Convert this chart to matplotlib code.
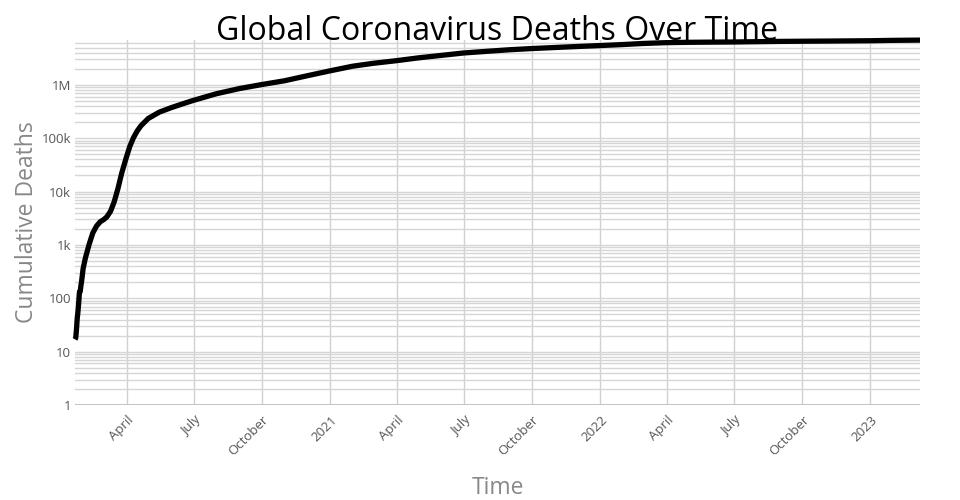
import pandas as pd
import matplotlib
matplotlib.use("Agg")
import matplotlib.pyplot as plt
from matplotlib.ticker import FixedLocator, NullFormatter

plt.rcParams['font.family'] = ['Open Sans', 'DejaVu Sans']

# cumulative global deaths
dates = [
    "2020-01-22", "2020-01-23", "2020-01-24", "2020-01-25", "2020-01-26", "2020-01-27",
    "2020-01-28", "2020-01-29", "2020-01-30", "2020-01-31", "2020-02-02", "2020-02-05",
    "2020-02-10", "2020-02-15", "2020-02-20", "2020-02-25", "2020-03-01", "2020-03-05",
    "2020-03-10", "2020-03-15", "2020-03-20", "2020-03-25", "2020-03-31", "2020-04-05",
    "2020-04-10", "2020-04-15", "2020-04-20", "2020-04-30", "2020-05-15", "2020-05-31",
    "2020-06-15", "2020-06-30", "2020-07-31", "2020-08-31", "2020-09-30", "2020-10-31",
    "2020-11-30", "2020-12-31", "2021-01-31", "2021-02-28", "2021-03-31", "2021-04-30",
    "2021-05-31", "2021-06-30", "2021-07-31", "2021-08-31", "2021-09-30", "2021-10-31",
    "2021-11-30", "2021-12-31", "2022-01-31", "2022-02-28", "2022-03-31", "2022-04-30",
    "2022-05-31", "2022-06-30", "2022-07-31", "2022-08-31", "2022-09-30", "2022-10-31",
    "2022-11-30", "2022-12-31", "2023-01-31", "2023-03-09",
]
deaths = [
    17, 18, 26, 42, 56, 82,
    131, 133, 171, 213, 362, 564,
    1013, 1666, 2247, 2708, 2996, 3348,
    4262, 6440, 11299, 21800, 42000, 69500,
    102000, 136000, 170000, 234000, 308000, 373000,
    438000, 511000, 680000, 850000, 1010000, 1190000,
    1470000, 1820000, 2230000, 2530000, 2830000, 3200000,
    3560000, 3950000, 4240000, 4540000, 4780000, 5000000,
    5220000, 5440000, 5680000, 5960000, 6170000, 6260000,
    6310000, 6350000, 6430000, 6510000, 6560000, 6600000,
    6650000, 6700000, 6810000, 6881000,
]

x_ticks = ["2020-04-01", "2020-07-01", "2020-10-01", "2021-01-01", "2021-04-01",
           "2021-07-01", "2021-10-01", "2022-01-01", "2022-04-01", "2022-07-01",
           "2022-10-01", "2023-01-01"]
x_labels = ["April", "July", "October", "2021", "April", "July", "October",
            "2022", "April", "July", "October", "2023"]
y_ticks = [1, 10, 100, 1e3, 1e4, 1e5, 1e6]
y_labels = ["1", "10", "100", "1k", "10k", "100k", "1M"]

dates = pd.to_datetime(dates)
x_ticks = pd.to_datetime(x_ticks)

fig = plt.figure(figsize=(9.6, 5.0), dpi=100)
ax = fig.add_axes([75 / 960, 95 / 500, 845 / 960, 365 / 500])

ax.plot(dates, deaths, color="black", linewidth=3.8, solid_capstyle="butt", clip_on=False, zorder=3)

ax.set_yscale("log")
ax.set_ylim(1, 10 ** 6.84)
ax.set_xlim(dates[0], dates[-1])

ax.set_yticks(y_ticks)
ax.set_yticklabels(y_labels)
minor = [m * 10 ** k for k in range(0, 7) for m in range(2, 10) if m * 10 ** k < 10 ** 6.84]
ax.yaxis.set_minor_locator(FixedLocator(minor))
ax.yaxis.set_minor_formatter(NullFormatter())

ax.set_xticks(x_ticks)
ax.set_xticklabels(x_labels, rotation=45, ha="right", va="top", rotation_mode="anchor")

ax.tick_params(axis="both", which="both", length=0, labelsize=9.5, labelcolor="#555555")
ax.tick_params(axis="y", pad=3)
ax.tick_params(axis="x", pad=6)

ax.grid(True, which="major", axis="y", color="#d6d6d6", linewidth=1)
ax.grid(True, which="minor", axis="y", color="#d6d6d6", linewidth=1)
ax.grid(True, which="major", axis="x", color="#d0d0d0", linewidth=1)
for s in ax.spines.values():
    s.set_visible(False)
ax.axhline(1, color="#bbbbbb", linewidth=1.2, zorder=2)

ax.set_ylabel("Cumulative Deaths", fontsize=16.5, color="#888888", labelpad=2)
ax.set_xlabel("Time", fontsize=16.5, color="#888888", labelpad=13)

fig.text(497 / 960, 460 / 500, "Global Coronavirus Deaths Over Time", fontsize=23,
         ha="center", va="baseline", color="black")

fig.savefig("out.png", dpi=100)
